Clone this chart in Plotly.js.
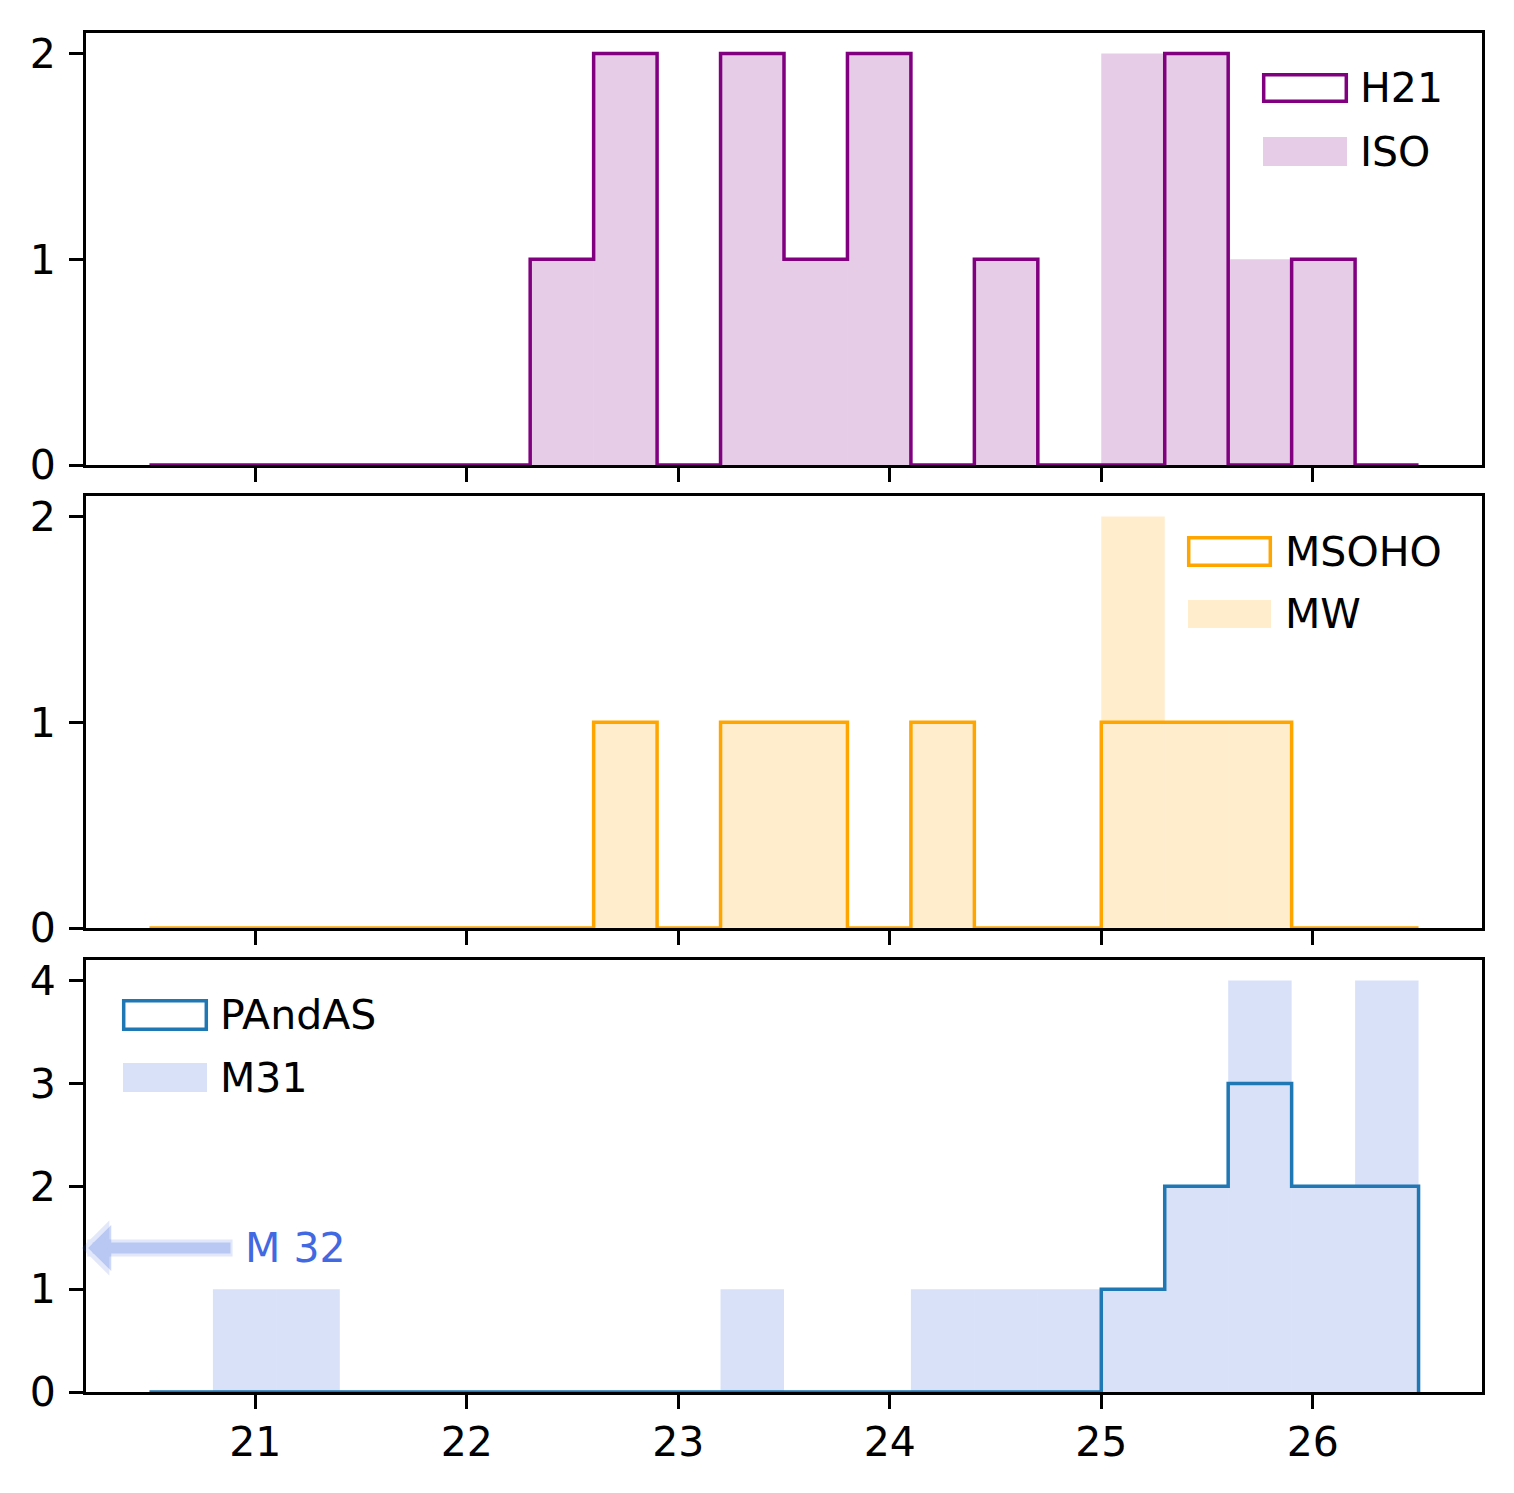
<!DOCTYPE html>
<html>
<head>
<meta charset="utf-8">
<script src="https://cdn.plot.ly/plotly-3.0.1.min.js"></script>
<style>body{margin:0;padding:0;background:#fff;} #chart{width:1514px;height:1493px;}</style>
</head>
<body>
<div id="chart"></div>
<script>
// ---- data ----
const binEdges = [20.5,20.8,21.1,21.4,21.7,22.0,22.3,22.6,22.9,23.2,23.5,23.8,24.1,24.4,24.7,25.0,25.3,25.6,25.9,26.2,26.5];
const H21    = [0,0,0,0,0,0,1,2,0,2,1,2,0,1,0,0,2,0,1,0];
const ISO    = [0,0,0,0,0,0,1,2,0,2,1,2,0,1,0,2,2,1,1,0];
const MSOHO  = [0,0,0,0,0,0,0,1,0,1,1,0,1,0,0,1,1,1,0,0];
const MW     = [0,0,0,0,0,0,0,1,0,1,1,0,1,0,0,2,1,1,0,0];
const PAndAS = [0,0,0,0,0,0,0,0,0,0,0,0,0,0,0,1,2,3,2,2];
const M31    = [0,1,1,0,0,0,0,0,0,1,0,0,1,1,1,1,2,4,2,4];
const xTicks = [21,22,23,24,25,26];
const m32Label = "M 32";
const m32Arrow = {x: 20.2, y: 1.4, tailX: 20.9, textX: 20.94};

// ---- helpers ----
const centers = binEdges.slice(0,-1).map((e,i)=> (e + binEdges[i+1]) / 2);
const widths  = binEdges.slice(0,-1).map((e,i)=> binEdges[i+1] - e);
function stepXY(counts){
  const x = [binEdges[0]], y = [0];
  counts.forEach((c,i)=>{ x.push(binEdges[i]); y.push(c); });
  x.push(binEdges[binEdges.length-1]); y.push(counts[counts.length-1]);
  x.push(binEdges[binEdges.length-1]); y.push(0);
  return {x, y};
}
function barTrace(counts, color, xa, ya){
  return {type:'bar', x:centers, y:counts, width:widths, xaxis:xa, yaxis:ya,
    marker:{color:color, line:{width:0}}, showlegend:false, hoverinfo:'skip'};
}
function stepTrace(counts, color, xa, ya){
  const s = stepXY(counts);
  return {type:'scatter', mode:'lines', x:s.x, y:s.y, xaxis:xa, yaxis:ya,
    line:{color:color, width:3.5, shape:'hv'}, showlegend:false, hoverinfo:'skip', cliponaxis:false};
}

const cPurple = '#800080', fPurple = 'rgba(128,0,128,0.2)';
const cOrange = '#FFA500', fOrange = 'rgba(255,165,0,0.2)';
const cBlue   = '#1f77b4', fBlue   = 'rgba(65,105,225,0.2)';

const data = [
  barTrace(ISO, fPurple, 'x', 'y'),
  stepTrace(H21, cPurple, 'x', 'y'),
  barTrace(MW, fOrange, 'x2', 'y2'),
  stepTrace(MSOHO, cOrange, 'x2', 'y2'),
  barTrace(M31, fBlue, 'x3', 'y3'),
  stepTrace(PAndAS, cBlue, 'x3', 'y3'),
];

// ---- layout (pixel helpers for legend placement) ----
const W = 1514, H = 1493;
const L = 86, R = 1482, T = 33, B = 1392;
const px = v => (v - L) / (R - L);
const py = v => (B - v) / (B - T);
const FONT = 'DejaVu Sans, Liberation Sans, sans-serif';
const FS = 41;

function xaxisCfg(anchor, labels){
  return {anchor:anchor, range:[20.2,26.8], tickvals:xTicks, ticktext:xTicks.map(String),
    showticklabels:labels, ticks:'outside', ticklen:14, tickwidth:3, tickcolor:'black',
    showline:true, linewidth:3, linecolor:'black', mirror:true, showgrid:false, zeroline:false,
    tickfont:{family:FONT, size:FS, color:'black'}, ticklabelstandoff:-2, fixedrange:true};
}
function yaxisCfg(anchor, domain, range, tv){
  return {anchor:anchor, domain:domain, range:range, tickvals:tv, ticktext:tv.map(String),
    ticks:'outside', ticklen:14, tickwidth:3, tickcolor:'black',
    showline:true, linewidth:3, linecolor:'black', mirror:true, showgrid:false, zeroline:false,
    tickfont:{family:FONT, size:FS, color:'black'}, ticklabelstandoff:5, fixedrange:true};
}

const shapes = [];
const annotations = [];
function legendItem(x0, x1, yTop, yBot, outline, color, label, textX){
  if (outline) {
    shapes.push({type:'rect', xref:'paper', yref:'paper', x0:px(x0+1.7), x1:px(x1-1.7),
      y0:py(yBot-1.7), y1:py(yTop+1.7), line:{color:color, width:3.5}, fillcolor:'rgba(0,0,0,0)'});
  } else {
    shapes.push({type:'rect', xref:'paper', yref:'paper', x0:px(x0), x1:px(x1),
      y0:py(yBot), y1:py(yTop), line:{width:0}, fillcolor:color});
  }
  annotations.push({xref:'paper', yref:'paper', x:px(textX), y:py((yTop+yBot)/2), text:label,
    showarrow:false, xanchor:'left', yanchor:'middle', font:{family:FONT, size:FS, color:'black'}});
}
legendItem(1262, 1348, 73, 103, true, cPurple, 'H21', 1358);
legendItem(1263, 1347, 137, 166, false, fPurple, 'ISO', 1358);
legendItem(1187, 1272, 536, 567, true, cOrange, 'MSOHO', 1283);
legendItem(1188, 1271, 600, 628, false, fOrange, 'MW', 1283);
legendItem(122, 208, 999, 1031, true, cBlue, 'PAndAS', 218);
legendItem(123, 207, 1063, 1092, false, fBlue, 'M31', 218);

// M 32 arrow (outer faint edge + inner body)
annotations.push({xref:'x3', yref:'y3', axref:'x3', ayref:'y3', x:m32Arrow.x - 0.02, y:m32Arrow.y,
  ax:m32Arrow.tailX, ay:m32Arrow.y, text:'', showarrow:true, arrowhead:1, arrowsize:0.54,
  arrowwidth:17, arrowcolor:'rgba(65,105,225,0.15)', standoff:0, startstandoff:0});
annotations.push({xref:'x3', yref:'y3', axref:'x3', ayref:'y3', x:m32Arrow.x + 0.01, y:m32Arrow.y,
  ax:m32Arrow.tailX - 0.01, ay:m32Arrow.y, text:'', showarrow:true, arrowhead:1, arrowsize:0.7,
  arrowwidth:11, arrowcolor:'rgba(65,105,225,0.25)', standoff:0, startstandoff:0});
annotations.push({xref:'x3', yref:'y3', x:m32Arrow.textX, y:m32Arrow.y, text:m32Label,
  showarrow:false, xanchor:'left', yanchor:'middle', font:{family:FONT, size:FS, color:'royalblue'}});

const layout = {
  width:W, height:H,
  margin:{l:L, r:W-R, t:T, b:H-B, pad:0},
  paper_bgcolor:'white', plot_bgcolor:'white',
  barmode:'overlay', showlegend:false,
  xaxis: xaxisCfg('y', false),
  xaxis2: xaxisCfg('y2', false),
  xaxis3: xaxisCfg('y3', true),
  yaxis: yaxisCfg('x', [py(465), 1], [0, 2.1], [0,1,2]),
  yaxis2: yaxisCfg('x2', [py(928), py(496)], [0, 2.1], [0,1,2]),
  yaxis3: yaxisCfg('x3', [0, py(960)], [0, 4.2], [0,1,2,3,4]),
  shapes: shapes,
  annotations: annotations,
  font:{family:FONT, size:FS, color:'black'}
};

Plotly.newPlot('chart', data, layout, {staticPlot:true, displayModeBar:false});
</script>
</body>
</html>
